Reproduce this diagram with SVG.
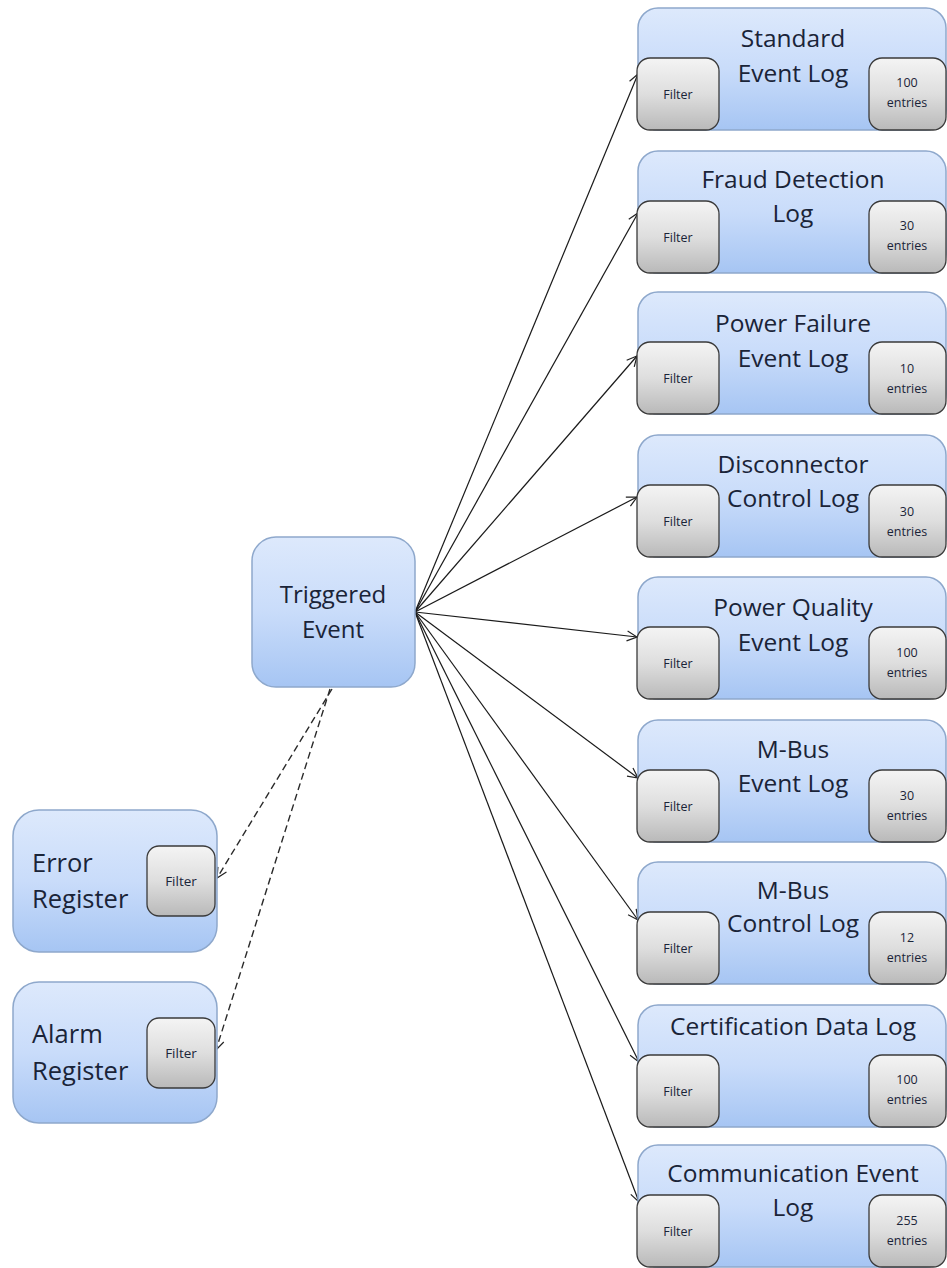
<svg xmlns="http://www.w3.org/2000/svg" width="947" height="1268" viewBox="0 0 947 1268">
<defs>
<linearGradient id="gBlue" x1="0" y1="0" x2="0" y2="1">
<stop offset="0" stop-color="#dde9fc"/>
<stop offset="0.5" stop-color="#c9dcfa"/>
<stop offset="1" stop-color="#a6c5f3"/>
</linearGradient>
<linearGradient id="gGray" x1="0" y1="0" x2="0" y2="1">
<stop offset="0" stop-color="#f4f4f4"/>
<stop offset="0.5" stop-color="#dedede"/>
<stop offset="1" stop-color="#b9b9b9"/>
</linearGradient>
<marker id="arr" viewBox="0 0 12 12" refX="11" refY="6" markerWidth="12" markerHeight="12" markerUnits="userSpaceOnUse" orient="auto">
<path d="M1,1 L11,6 L1,11" fill="none" stroke="#222" stroke-width="1.2"/>
</marker>
</defs>
<style>
.box{fill:url(#gBlue);stroke:#8ea8cc;stroke-width:1.5}
.flt{fill:url(#gGray);stroke:#3a3a3a;stroke-width:1.3}
.t{font-family:"Open Sans","Liberation Sans",sans-serif;fill:#1a2438;text-anchor:middle}
.title{font-size:24.5px}
.big{font-size:25.5px;text-anchor:start}
.sm{font-size:12.5px}
.sm2{font-size:13.5px}
.con{stroke:#1a1a1a;stroke-width:1.2;fill:none;marker-end:url(#arr)}
.dash{stroke:#2a2a2a;stroke-width:1.4;fill:none;stroke-dasharray:7,4;marker-end:url(#arr)}
</style>

<g id="connectors">
<line class="con" x1="415" y1="612" x2="638" y2="74"/>
<line class="con" x1="415" y1="612" x2="638" y2="213"/>
<line class="con" x1="415" y1="612" x2="637" y2="356"/>
<line class="con" x1="415" y1="612" x2="637" y2="497"/>
<line class="con" x1="415" y1="612" x2="637" y2="637"/>
<line class="con" x1="415" y1="612" x2="638" y2="778"/>
<line class="con" x1="415" y1="612" x2="638" y2="920"/>
<line class="con" x1="415" y1="612" x2="639" y2="1062"/>
<line class="con" x1="415" y1="612" x2="639" y2="1202"/>
<line class="dash" x1="332" y1="689" x2="217" y2="878"/>
<line class="dash" x1="330" y1="689" x2="216" y2="1050"/>
</g>

<g id="triggered-event">
<rect class="box" x="252" y="537" width="163" height="150" rx="24"/>
<text class="t" x="333" y="603" style="font-size:24px">Triggered</text>
<text class="t" x="333" y="638" style="font-size:24px">Event</text>
</g>

<g id="error-register">
<rect class="box" x="13" y="810" width="204" height="142" rx="26"/>
<text class="t big" x="32" y="872">Error</text>
<text class="t big" x="32" y="908">Register</text>
<rect class="flt" x="147" y="846" width="68" height="70" rx="12"/>
<text class="t sm2" x="181" y="886">Filter</text>
</g>

<g id="alarm-register">
<rect class="box" x="13" y="982" width="204" height="141" rx="26"/>
<text class="t big" x="32" y="1043">Alarm</text>
<text class="t big" x="32" y="1080">Register</text>
<rect class="flt" x="147" y="1018" width="68" height="70" rx="12"/>
<text class="t sm2" x="181" y="1058">Filter</text>
</g>

<g id="standard-event-log">
<rect class="box" x="638" y="8" width="308" height="122" rx="20"/>
<text class="t title" x="793" y="47">Standard</text>
<text class="t title" x="793" y="82">Event Log</text>
<rect class="flt" x="637" y="58" width="82" height="72" rx="13"/>
<text class="t sm" x="678" y="99">Filter</text>
<rect class="flt" x="869" y="58" width="77" height="72" rx="13"/>
<text class="t sm" x="907" y="87">100</text>
<text class="t sm" x="907" y="107">entries</text>
</g>

<g id="fraud-detection-log">
<rect class="box" x="638" y="151" width="308" height="122" rx="20"/>
<text class="t title" x="793" y="188">Fraud Detection</text>
<text class="t title" x="793" y="222">Log</text>
<rect class="flt" x="637" y="201" width="82" height="72" rx="13"/>
<text class="t sm" x="678" y="242">Filter</text>
<rect class="flt" x="869" y="201" width="77" height="72" rx="13"/>
<text class="t sm" x="907" y="230">30</text>
<text class="t sm" x="907" y="250">entries</text>
</g>

<g id="power-failure-event-log">
<rect class="box" x="638" y="292" width="308" height="122" rx="20"/>
<text class="t title" x="793" y="332">Power Failure</text>
<text class="t title" x="793" y="367">Event Log</text>
<rect class="flt" x="637" y="342" width="82" height="72" rx="13"/>
<text class="t sm" x="678" y="383">Filter</text>
<rect class="flt" x="869" y="342" width="77" height="72" rx="13"/>
<text class="t sm" x="907" y="373">10</text>
<text class="t sm" x="907" y="393">entries</text>
</g>

<g id="disconnector-control-log">
<rect class="box" x="638" y="435" width="308" height="122" rx="20"/>
<text class="t title" x="793" y="473">Disconnector</text>
<text class="t title" x="793" y="507">Control Log</text>
<rect class="flt" x="637" y="485" width="82" height="72" rx="13"/>
<text class="t sm" x="678" y="526">Filter</text>
<rect class="flt" x="869" y="485" width="77" height="72" rx="13"/>
<text class="t sm" x="907" y="516">30</text>
<text class="t sm" x="907" y="536">entries</text>
</g>

<g id="power-quality-event-log">
<rect class="box" x="638" y="577" width="308" height="122" rx="20"/>
<text class="t title" x="793" y="616">Power Quality</text>
<text class="t title" x="793" y="651">Event Log</text>
<rect class="flt" x="637" y="627" width="82" height="72" rx="13"/>
<text class="t sm" x="678" y="668">Filter</text>
<rect class="flt" x="869" y="627" width="77" height="72" rx="13"/>
<text class="t sm" x="907" y="657">100</text>
<text class="t sm" x="907" y="677">entries</text>
</g>

<g id="mbus-event-log">
<rect class="box" x="638" y="720" width="308" height="122" rx="20"/>
<text class="t title" x="793" y="758">M-Bus</text>
<text class="t title" x="793" y="792">Event Log</text>
<rect class="flt" x="637" y="770" width="82" height="72" rx="13"/>
<text class="t sm" x="678" y="811">Filter</text>
<rect class="flt" x="869" y="770" width="77" height="72" rx="13"/>
<text class="t sm" x="907" y="800">30</text>
<text class="t sm" x="907" y="820">entries</text>
</g>

<g id="mbus-control-log">
<rect class="box" x="638" y="862" width="308" height="122" rx="20"/>
<text class="t title" x="793" y="899">M-Bus</text>
<text class="t title" x="793" y="932">Control Log</text>
<rect class="flt" x="637" y="912" width="82" height="72" rx="13"/>
<text class="t sm" x="678" y="953">Filter</text>
<rect class="flt" x="869" y="912" width="77" height="72" rx="13"/>
<text class="t sm" x="907" y="942">12</text>
<text class="t sm" x="907" y="962">entries</text>
</g>

<g id="certification-data-log">
<rect class="box" x="638" y="1005" width="308" height="122" rx="20"/>
<text class="t title" x="793" y="1035">Certification Data Log</text>
<rect class="flt" x="637" y="1055" width="82" height="72" rx="13"/>
<text class="t sm" x="678" y="1096">Filter</text>
<rect class="flt" x="869" y="1055" width="77" height="72" rx="13"/>
<text class="t sm" x="907" y="1084">100</text>
<text class="t sm" x="907" y="1104">entries</text>
</g>

<g id="communication-event-log">
<rect class="box" x="638" y="1145" width="308" height="122" rx="20"/>
<text class="t title" x="793" y="1182">Communication Event</text>
<text class="t title" x="793" y="1216">Log</text>
<rect class="flt" x="637" y="1195" width="82" height="72" rx="13"/>
<text class="t sm" x="678" y="1236">Filter</text>
<rect class="flt" x="869" y="1195" width="77" height="72" rx="13"/>
<text class="t sm" x="907" y="1225">255</text>
<text class="t sm" x="907" y="1245">entries</text>
</g>
</svg>
